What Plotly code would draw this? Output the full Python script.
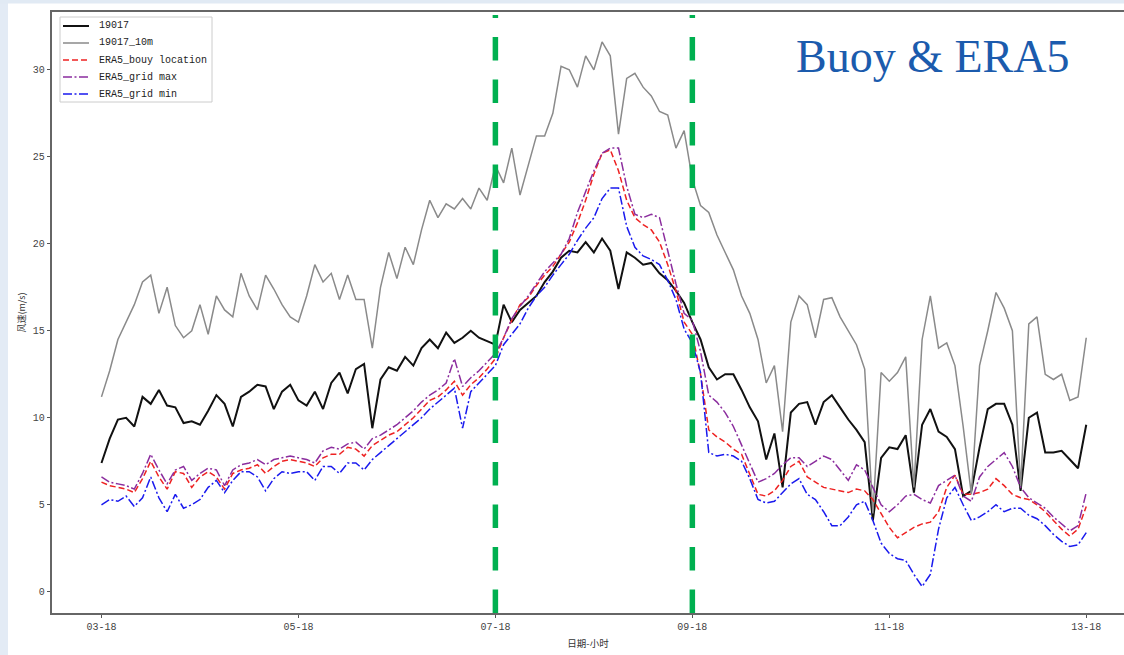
import pandas as pd
import plotly.graph_objects as go

# Two-hourly samples from 03-18 to 13-18
start = pd.Timestamp("2019-08-03 18:00")
times = pd.date_range(start, periods=121, freq="2h")

buoy = [7.4, 8.8, 9.9, 10.0, 9.5, 11.2, 10.8, 11.6, 10.7, 10.6,
        9.7, 9.8, 9.6, 10.4, 11.3, 10.8, 9.5, 11.2, 11.5, 11.9,
        11.8, 10.5, 11.5, 11.9, 11.0, 10.7, 11.5, 10.5, 12.0, 12.6,
        11.4, 12.8, 13.1, 9.4, 12.2, 12.9, 12.7, 13.5, 13.0, 14.0,
        14.5, 14.0, 14.9, 14.3, 14.6, 15.0, 14.6, 14.4, 14.2, 16.5,
        15.5, 16.2, 16.6, 17.0, 17.8, 18.4, 19.2, 19.6, 19.5, 20.1,
        19.5, 20.3, 19.6, 17.4, 19.5, 19.2, 18.8, 18.9, 18.3, 17.9,
        17.3, 16.6, 15.5, 14.5, 12.9, 12.2, 12.5, 12.5, 11.6, 10.6,
        9.8, 7.6, 9.1, 6.0, 10.3, 10.8, 10.9, 9.6, 10.9, 11.3,
        10.6, 9.9, 9.3, 8.6, 4.1, 7.7, 8.3, 8.2, 9.0, 5.7,
        9.6, 10.5, 9.2, 8.9, 8.2, 5.5, 5.8, 8.3, 10.5, 10.8,
        10.8, 9.6, 5.8, 10.0, 10.3, 8.0, 8.0, 8.1, 7.6, 7.1,
        9.6]

buoy_10m = [11.2, 12.7, 14.5, 15.5, 16.5, 17.8, 18.2, 16.0, 17.5, 15.3,
            14.6, 15.0, 16.5, 14.8, 17.0, 16.2, 15.8, 18.3, 17.0, 16.2,
            18.2, 17.4, 16.5, 15.8, 15.5, 17.0, 18.8, 17.8, 18.3, 16.8,
            18.2, 16.8, 16.8, 14.0, 17.5, 19.5, 18.0, 19.8, 18.8, 20.8,
            22.5, 21.5, 22.3, 22.0, 22.6, 22.0, 23.2, 22.5, 24.5, 23.5,
            25.5, 22.8, 24.5, 26.2, 26.2, 27.5, 30.2, 30.0, 29.0, 30.8,
            30.0, 31.6, 30.8, 26.3, 29.5, 29.8, 29.0, 28.5, 27.6, 27.4,
            25.5, 26.5, 23.7, 22.2, 21.8, 20.5, 19.5, 18.5, 17.0, 16.0,
            14.5, 12.0, 13.0, 9.2, 15.5, 17.0, 16.5, 14.6, 16.8, 16.9,
            15.8, 15.0, 14.2, 12.8, 4.5, 12.6, 12.1, 12.6, 13.5, 6.0,
            14.5, 17.0, 14.0, 14.3, 13.0, 9.5, 5.6, 13.0, 15.0, 17.2,
            16.3, 15.0, 6.0, 15.4, 15.8, 12.5, 12.2, 12.5, 11.0, 11.2,
            14.6]

era5_loc = [6.3, 6.1, 6.0, 5.9, 5.7, 6.5, 7.5, 6.6, 5.9, 6.9,
            6.8, 6.0, 6.6, 6.9, 6.6, 5.9, 6.8, 7.0, 7.1, 7.3,
            6.8, 7.2, 7.5, 7.6, 7.5, 7.4, 7.2, 7.7, 7.9, 7.9,
            8.3, 8.2, 7.8, 8.4, 8.7, 9.0, 9.2, 9.6, 10.0, 10.5,
            11.0, 11.2, 11.6, 12.1, 11.3, 11.9, 12.3, 12.8, 13.4, 14.6,
            15.6, 16.5, 16.9, 17.6, 18.2, 18.7, 19.4, 20.1, 21.2, 22.5,
            24.0, 25.2, 25.4, 24.2, 22.5, 21.5, 21.1, 20.8, 20.1, 18.8,
            17.3, 15.5, 14.8, 12.5, 9.3, 8.9, 8.6, 8.2, 7.9, 6.8,
            5.6, 5.5, 5.8, 6.4, 7.2, 7.5, 6.6, 6.3, 6.0, 5.9,
            5.8, 5.7, 5.9, 5.8, 5.3, 4.5, 3.7, 3.1, 3.4, 3.7,
            3.9, 4.0, 4.6, 6.0, 6.7, 5.6, 5.6, 5.7, 5.9, 6.5,
            6.1, 5.6, 5.4, 5.3, 5.0, 4.6, 4.1, 3.6, 3.2, 3.6,
            4.9]

era5_max = [6.6, 6.3, 6.2, 6.1, 5.9, 6.8, 7.9, 7.0, 6.2, 7.0,
            7.2, 6.4, 6.8, 7.1, 7.0, 6.1, 7.0, 7.3, 7.4, 7.6,
            7.3, 7.6, 7.7, 7.8, 7.7, 7.6, 7.4, 8.1, 8.3, 8.2,
            8.5, 8.6, 8.2, 8.8, 9.0, 9.3, 9.6, 10.0, 10.4, 10.9,
            11.3, 11.6, 12.0, 13.4, 11.8, 12.3, 12.7, 13.2, 13.7, 14.6,
            15.7, 16.4, 17.0, 17.7, 18.4, 18.9, 19.4, 20.3, 21.8, 23.0,
            24.2, 25.2, 25.5, 25.5, 23.3, 21.7, 21.5, 21.7, 21.5, 19.6,
            17.7, 16.0, 15.6, 13.8, 11.3, 10.9, 10.3, 9.5, 8.4, 7.3,
            6.3, 6.5, 6.8, 7.3, 7.7, 7.7, 7.2, 7.5, 7.8, 7.6,
            7.0, 6.4, 7.3, 7.0, 6.0, 5.0, 4.6, 5.0, 5.5, 5.6,
            5.3, 5.1, 6.1, 6.4, 6.7, 5.5, 5.2, 6.6, 7.2, 7.6,
            8.0, 7.2, 6.0, 5.4, 5.1, 4.8, 4.3, 3.9, 3.5, 3.8,
            5.7]

era5_min = [5.0, 5.3, 5.2, 5.5, 4.9, 5.4, 6.6, 5.4, 4.6, 5.6,
            4.8, 5.0, 5.3, 6.0, 6.4, 5.7, 6.4, 6.9, 6.9, 6.6,
            5.8, 6.5, 6.9, 6.8, 6.9, 6.9, 6.4, 7.2, 7.2, 6.8,
            7.4, 7.4, 7.0, 7.6, 8.0, 8.4, 8.8, 9.2, 9.6, 10.0,
            10.5, 10.9, 11.3, 11.7, 9.4, 11.5, 12.0, 12.5, 13.0, 14.2,
            14.8, 15.4, 16.3, 17.0, 17.5, 18.2, 18.8, 19.4, 20.2, 20.9,
            21.5, 22.6, 23.2, 23.2, 21.0, 19.8, 19.3, 19.1, 18.8, 17.9,
            16.8, 15.1, 14.3, 12.6, 8.0, 7.8, 7.9, 7.8, 7.5, 6.5,
            5.3, 5.1, 5.2, 5.7, 6.2, 6.5, 5.6, 5.3, 4.6, 3.8,
            3.8, 4.3, 5.0, 5.2, 4.1, 2.8, 2.2, 1.9, 1.8, 1.0,
            0.3, 1.0, 3.6, 5.4, 6.0, 5.0, 4.1, 4.3, 4.6, 5.0,
            4.6, 4.8, 4.8, 4.4, 4.2, 3.8, 3.3, 2.9, 2.6, 2.7,
            3.4]

tick_times = pd.date_range(start, periods=6, freq="48h")
y_ticks = [0, 5, 10, 15, 20, 25, 30]
marker_times = [pd.Timestamp("2019-08-07 18:00"), pd.Timestamp("2019-08-09 18:00")]

W, H = 1124, 655
L, R, T, B = 52, 0, 12, 42
PW, PH = W - L - R, H - T - B


def px_x(p):
    return (p - L) / PW


def px_y(p):
    return (H - B - p) / PH


mono = "Liberation Mono, DejaVu Sans Mono, monospace"
cjk = "Noto Sans CJK SC, sans-serif"

series = [
    ("19017", buoy, dict(color="#111111", width=2.0, dash="solid")),
    ("19017_10m", buoy_10m, dict(color="#8a8a8a", width=1.5, dash="solid")),
    ("ERA5_bouy location", era5_loc, dict(color="#ee2222", width=1.5, dash="6px,3px")),
    ("ERA5_grid max", era5_max, dict(color="#8b2d9e", width=1.5, dash="9px,2.5px,2px,2.5px")),
    ("ERA5_grid min", era5_min, dict(color="#1a1aee", width=1.5, dash="9px,2.5px,2px,2.5px")),
]

fig = go.Figure()
for name, vals, line in series:
    fig.add_trace(go.Scatter(x=times, y=vals, mode="lines", name=name, line=line,
                             showlegend=False))

shapes = [
    # slide background strips
    dict(type="rect", xref="paper", yref="paper", x0=px_x(0), x1=px_x(8),
         y0=px_y(H), y1=px_y(0), fillcolor="#e3ebf5", line=dict(width=0), layer="below"),
    dict(type="rect", xref="paper", yref="paper", x0=px_x(0), x1=px_x(W),
         y0=px_y(3.5), y1=px_y(0), fillcolor="#e1eaf4", line=dict(width=0), layer="below"),
]
for t in marker_times:
    shapes.append(dict(type="line", xref="x", yref="paper", x0=t, x1=t,
                       y0=0, y1=px_y(15),
                       line=dict(color="#00b050", width=5.5, dash="23.5px,19px")))

# legend box with line samples and labels
annotations = []
box_left, box_top, box_right, box_bottom = 60, 17, 212, 102
shapes.append(dict(type="rect", xref="paper", yref="paper",
                   x0=px_x(box_left), x1=px_x(box_right),
                   y0=px_y(box_bottom), y1=px_y(box_top),
                   fillcolor="white", line=dict(color="#cccccc", width=1)))
row_y = [26, 43, 60, 77, 94]
for (name, _, line), ry in zip(series, row_y):
    shapes.append(dict(type="line", xref="paper", yref="paper",
                       x0=px_x(63), x1=px_x(89), y0=px_y(ry), y1=px_y(ry),
                       line=line))
    annotations.append(dict(text=name, xref="paper", yref="paper",
                            x=px_x(97), y=px_y(ry), xanchor="left", yanchor="middle",
                            showarrow=False,
                            font=dict(family=mono, size=10, color="#222222")))

annotations.append(dict(text="Buoy &amp; ERA5", xref="paper", yref="paper",
                        x=px_x(794), y=px_y(56), xanchor="left", yanchor="middle",
                        showarrow=False,
                        font=dict(family="Liberation Serif, Times New Roman, serif",
                                  size=46, color="#1b5bad")))

x_left = start - pd.Timedelta(hours=12.06)
x_right = start + pd.Timedelta(hours=249.2)

fig.update_layout(
    width=W, height=H,
    margin=dict(l=L, r=R, t=T, b=B, pad=0),
    paper_bgcolor="white", plot_bgcolor="white",
    shapes=shapes,
    annotations=annotations,
    showlegend=False,
)

fig.update_xaxes(
    type="date", range=[x_left, x_right],
    tickvals=list(tick_times), tickformat="%d-%H",
    ticks="outside", ticklen=3.5, tickwidth=1, tickcolor="#555555",
    showline=True, linecolor="#666666", linewidth=1.5, mirror=True,
    showgrid=False, zeroline=False,
    tickfont=dict(family=mono, size=10, color="#444444"),
    title=dict(text="日期-小时", font=dict(family=cjk, size=9.5, color="#333333"), standoff=8),
)
fig.update_yaxes(
    range=[-1.22, 33.32], tickvals=y_ticks,
    ticks="outside", ticklen=3.5, tickwidth=1, tickcolor="#555555",
    showline=True, linecolor="#666666", linewidth=1.5, mirror=False,
    showgrid=False, zeroline=False,
    tickfont=dict(family=mono, size=10, color="#444444"),
    title=dict(text="风速(m/s)", font=dict(family=cjk, size=9, color="#333333"), standoff=6),
)

fig.write_html("out.html")
